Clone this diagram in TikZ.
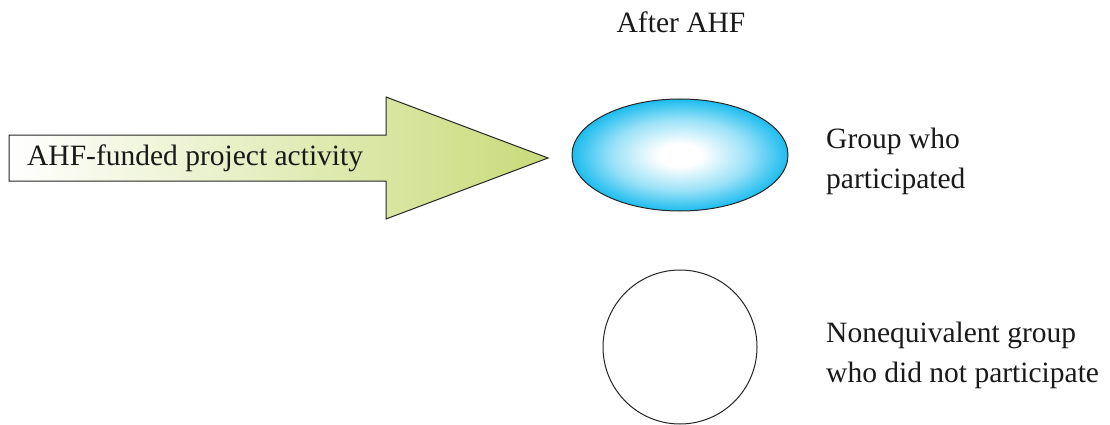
\documentclass[tikz,border=0pt]{standalone}
\usepackage{fontspec}
\setmainfont{Liberation Serif}
\usetikzlibrary{shapes.geometric}
\definecolor{arrowgreen}{HTML}{C8DB7A}
\definecolor{skycyan}{HTML}{00B4EC}
\pgfdeclareradialshading{glow}{\pgfpoint{0bp}{0bp}}{%
  color(0bp)=(white); color(5bp)=(white); color(16bp)=(skycyan!40!white);
  color(27bp)=(skycyan); color(50bp)=(skycyan)}
\tikzset{
  lbl/.style={font=\fontsize{29.5}{40}\selectfont, text=black!90, inner sep=0pt},
  outline/.style={draw=black!85, line width=1pt}
}
\begin{document}
\begin{tikzpicture}[x=1pt,y=-1pt]
\useasboundingbox (0,0) rectangle (1110,425);
% arrow
\path[outline, left color=white, right color=arrowgreen]
  (9,135) -- (386,135) -- (386,97) -- (548,158) -- (386,219) -- (386,181) -- (9,181) -- cycle;
\node[lbl, anchor=west] (act) at (27,158) {AHF-funded project activity};
% ellipse
\node[outline, ellipse, minimum width=216pt, minimum height=112pt, shading=glow] (grp) at (680,155) {};
% circle
\node[outline, circle, minimum size=154pt, fill=white] (ctrl) at (680,347) {};
% labels
\node[lbl] (after) at (681,22) {After AHF};
\node[lbl, anchor=west, align=left] (glbl) at (826,161) {Group who\\participated};
\node[lbl, anchor=west, align=left] (clbl) at (826,355) {Nonequivalent group\\who did not participate};
\end{tikzpicture}
\end{document}
